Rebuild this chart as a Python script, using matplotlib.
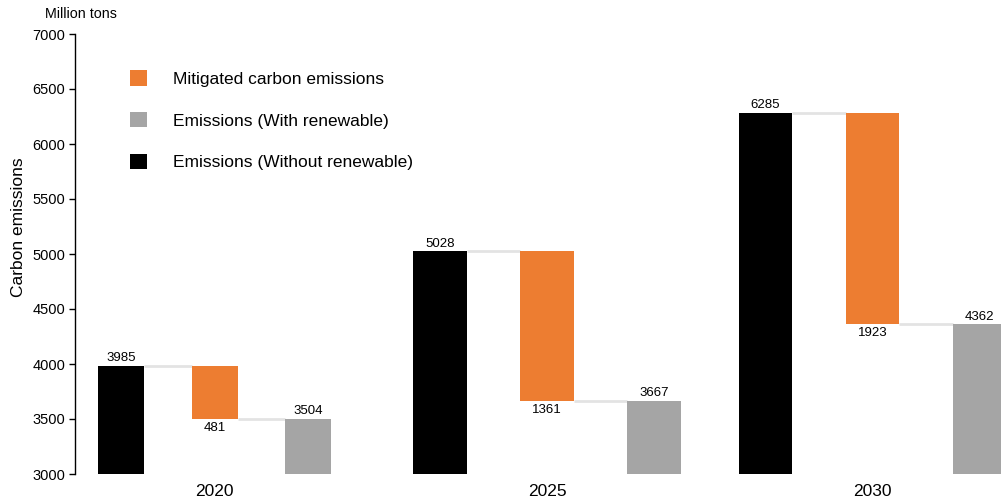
import matplotlib
matplotlib.use("Agg")
import matplotlib.pyplot as plt
from matplotlib.patches import Patch

years = ["2020", "2025", "2030"]
without_renewable = [3985, 5028, 6285]
with_renewable = [3504, 3667, 4362]
mitigated = [3985 - 3504, 5028 - 3667, 6285 - 4362]

C_BLACK = "#000000"
C_ORANGE = "#ED7D31"
C_GRAY = "#A5A5A5"
C_LINK = "#E3E3E3"

plt.rcParams["font.family"] = ["Liberation Sans", "DejaVu Sans"]

W, H = 1001, 504
fig = plt.figure(figsize=(W / 100, H / 100), dpi=100)
ax = fig.add_axes([75 / W, (H - 474) / H, 1 - 75 / W, (474 - 34) / H])

# horizontal layout of each year group (x axis measured in figure pixels)
group_start = [121, 440, 765.5]
group_step = [93.5, 107, 107]
group_width = [46, 53.5, 53]

for g in range(len(years)):
    x0 = group_start[g]
    s = group_step[g]
    w = group_width[g]
    xb, xo, xg = x0, x0 + s, x0 + 2 * s
    top = without_renewable[g]
    low = with_renewable[g]
    ax.bar(xb, top - 3000, bottom=3000, width=w, color=C_BLACK, zorder=3)
    ax.bar(xo, mitigated[g], bottom=low, width=w, color=C_ORANGE, zorder=3)
    ax.bar(xg, low - 3000, bottom=3000, width=w, color=C_GRAY, zorder=3)
    ax.plot([xb + w / 2, xo - w / 2], [top, top], color=C_LINK, lw=2, zorder=2,
            solid_capstyle="butt")
    ax.plot([xo + w / 2, xg - w / 2], [low, low], color=C_LINK, lw=2, zorder=2,
            solid_capstyle="butt")
    ax.text(xb, top + 12, f"{top}", ha="center", va="bottom", fontsize=9.5)
    ax.text(xg, low + 12, f"{low}", ha="center", va="bottom", fontsize=9.5)
    ax.text(xo, low - 28, f"{mitigated[g]}", ha="center", va="top", fontsize=9.5)

ax.set_xlim(75, 1001)
ax.set_ylim(3000, 7000)
ax.set_yticks(range(3000, 7001, 500))
ax.tick_params(axis="y", labelsize=10.5, length=4, width=1, direction="out", pad=3)
ax.set_xticks([group_start[g] + group_step[g] for g in range(3)])
ax.set_xticklabels(years, fontsize=12.5)
ax.tick_params(axis="x", length=0, pad=7)

for side in ("top", "right", "bottom"):
    ax.spines[side].set_visible(False)
ax.spines["left"].set_linewidth(1)

ax.set_ylabel("Carbon emissions", fontsize=12.5)
ax.yaxis.set_label_coords((26 - 75) / 926, (474 - 227) / 440)
fig.text(81 / W, 1 - 14 / H, "Million tons", ha="center", va="center", fontsize=10.3)

handles = [Patch(facecolor=C_ORANGE, label="Mitigated carbon emissions"),
           Patch(facecolor=C_GRAY, label="Emissions (With renewable)"),
           Patch(facecolor=C_BLACK, label="Emissions (Without renewable)")]
fig.legend(handles=handles, loc="upper left", bbox_to_anchor=(130 / W, 1 - 70 / H),
           frameon=False, fontsize=12.5, handlelength=1.0, handleheight=1.0,
           handletextpad=1.45, labelspacing=1.45, borderpad=0, borderaxespad=0)

fig.savefig("out.png", dpi=100)
